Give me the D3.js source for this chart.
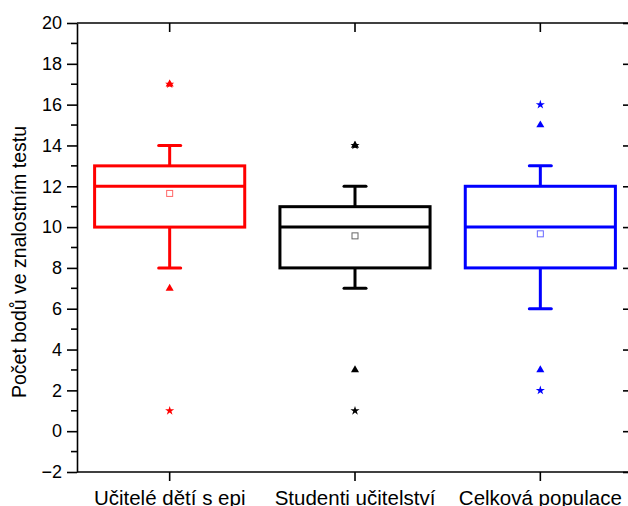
<!DOCTYPE html>
<html>
<head>
<meta charset="utf-8">
<script src="https://cdn.jsdelivr.net/npm/d3@7"></script>
<style>
  body { margin: 0; background: #fff; }
  svg { display: block; font-family: "Liberation Sans", Arial, sans-serif; }
</style>
</head>
<body>
<div id="chart"></div>
<script>
const categories = ["Učitelé dětí s epi", "Studenti učitelství", "Celková populace"];
const colors = ["#ff0000", "#000000", "#0000ff"];
const q1 = [10, 8, 8];
const median = [12, 10, 10];
const q3 = [13, 11, 12];
const whiskerLo = [8, 7, 6];
const whiskerHi = [14, 12, 13];
const means = [11.65, 9.57, 9.67];
// triangle and star markers (outer points)
const triangles = [[17, 7], [14, 3], [15, 3]];
const stars = [[17, 1], [14, 1], [16, 2]];
const yTicks = [-2, 0, 2, 4, 6, 8, 10, 12, 14, 16, 18, 20];

const width = 628, height = 506;
const margin = { left: 77, right: -5, top: 23, bottom: 34 };

const svg = d3.select("#chart").append("svg")
  .attr("width", width)
  .attr("height", height);

const x = d3.scaleBand()
  .domain(categories)
  .range([margin.left, width - margin.right])
  .padding(0);

const y = d3.scaleLinear()
  .domain([-2, 20])
  .range([height - margin.bottom, margin.top]);

const boxW = x.bandwidth() * 0.81;
const capW = 22;

// frame
const x0 = margin.left, x1 = width - margin.right, y0 = height - margin.bottom, y1 = margin.top;

// left axis
const leftAxis = svg.append("g").attr("transform", `translate(${x0},0)`)
  .call(d3.axisLeft(y).tickValues(yTicks).tickSize(10).tickPadding(5).tickSizeOuter(0));
leftAxis.selectAll("text").attr("font-size", 18).attr("fill", "#000").attr("font-family", "Liberation Sans, Arial, sans-serif");
leftAxis.selectAll("line, path").attr("stroke", "#000").attr("stroke-width", 1.6);
// minor ticks
svg.append("g").selectAll("line")
  .data(d3.range(-1, 20, 2))
  .join("line")
  .attr("x1", x0 - 6).attr("x2", x0)
  .attr("y1", d => y(d)).attr("y2", d => y(d))
  .attr("stroke", "#000").attr("stroke-width", 1.6);

// right axis (ticks inward)
const rightAxis = svg.append("g").attr("transform", `translate(${x1},0)`)
  .call(d3.axisLeft(y).tickValues(yTicks).tickSizeInner(10).tickFormat("").tickSizeOuter(0));
rightAxis.selectAll("line, path").attr("stroke", "#000").attr("stroke-width", 1.6);

// bottom axis
const bottomAxis = svg.append("g").attr("transform", `translate(0,${y0})`)
  .call(d3.axisBottom(x).tickSize(9).tickPadding(9).tickSizeOuter(0));
bottomAxis.select(".domain").attr("d", `M${x0},0H${x1}`);
bottomAxis.selectAll("text").attr("font-size", 20.5).attr("fill", "#000").attr("font-family", "Liberation Sans, Arial, sans-serif");
bottomAxis.selectAll("line, path").attr("stroke", "#000").attr("stroke-width", 1.6);

// top axis (ticks inward)
const topAxis = svg.append("g").attr("transform", `translate(0,${y1})`)
  .call(d3.axisBottom(x).tickSize(9).tickFormat("").tickSizeOuter(0));
topAxis.select(".domain").attr("d", `M${x0},0H${x1}`);
topAxis.selectAll("line, path").attr("stroke", "#000").attr("stroke-width", 1.6);

// y label
svg.append("text")
  .attr("transform", `translate(26,262) rotate(-90)`)
  .attr("text-anchor", "middle")
  .attr("font-size", 19.5)
  .text("Počet bodů ve znalostním testu");

// boxes
const boxes = svg.append("g").selectAll("g")
  .data(categories)
  .join("g")
  .attr("stroke", (d, i) => colors[i])
  .attr("fill", "none");

boxes.each(function (d, i) {
  const g = d3.select(this);
  const cx = x(d) + x.bandwidth() / 2;
  g.append("line").attr("x1", cx).attr("x2", cx).attr("y1", y(q3[i])).attr("y2", y(whiskerHi[i])).attr("stroke-width", 3);
  g.append("line").attr("x1", cx).attr("x2", cx).attr("y1", y(q1[i])).attr("y2", y(whiskerLo[i])).attr("stroke-width", 3);
  g.append("line").attr("x1", cx - capW / 2).attr("x2", cx + capW / 2).attr("y1", y(whiskerHi[i])).attr("y2", y(whiskerHi[i])).attr("stroke-width", 3).attr("stroke-linecap", "round");
  g.append("line").attr("x1", cx - capW / 2).attr("x2", cx + capW / 2).attr("y1", y(whiskerLo[i])).attr("y2", y(whiskerLo[i])).attr("stroke-width", 3).attr("stroke-linecap", "round");
  g.append("rect")
    .attr("x", cx - boxW / 2).attr("width", boxW)
    .attr("y", y(q3[i])).attr("height", y(q1[i]) - y(q3[i]))
    .attr("stroke-width", 3).attr("fill", "#fff");
  g.append("line").attr("x1", cx - boxW / 2).attr("x2", cx + boxW / 2).attr("y1", y(median[i])).attr("y2", y(median[i])).attr("stroke-width", 3);
  g.append("rect")
    .attr("x", cx - 3).attr("y", y(means[i]) - 3).attr("width", 6).attr("height", 6)
    .attr("stroke-width", 1).attr("stroke-opacity", 0.6);
  triangles[i].forEach(v => {
    g.append("path")
      .attr("d", d3.symbol(d3.symbolTriangle, 28)())
      .attr("transform", `translate(${cx},${y(v)})`)
      .attr("fill", colors[i]).attr("stroke", "none");
  });
  stars[i].forEach(v => {
    g.append("path")
      .attr("d", d3.symbol(d3.symbolStar, 26)())
      .attr("transform", `translate(${cx},${y(v)})`)
      .attr("fill", colors[i]).attr("stroke", "none");
  });
});
</script>
</body>
</html>
